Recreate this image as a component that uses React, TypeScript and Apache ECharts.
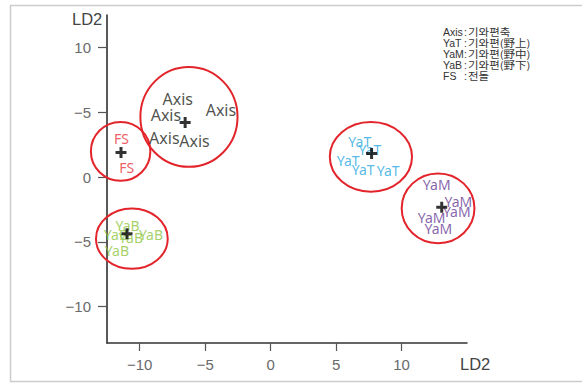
import React, { useEffect, useRef } from "react";
import * as echarts from "echarts";

// ---- data ----
const xTickValues = [-10, -5, 0, 5, 10];
const yTickValues = [-10, -5, 0, 5, 10];
const yTickLabels = ["\u221210", "\u22125", "0", "\u22125", "10"]; // as printed in the original
const xTickLabels = ["\u221210", "\u22125", "0", "5", "10"];

const groups = ["Axis", "FS", "YaB", "YaT", "YaM"];
const groupColors = ["#231f20", "#e8323c", "#8dc63f", "#29a8e0", "#6a3d97"];
const groupFontSizes = [16, 14, 14, 14, 14];

const axisPts = [[-7.1, 6.05], [-8.0, 4.82], [-3.8, 5.15], [-8.12, 3.05], [-5.82, 2.77]];
const fsPts = [[-11.39, 2.98], [-11.0, 0.72]];
const yabPts = [[-10.93, -3.77], [-11.82, -4.46], [-10.67, -4.67], [-9.14, -4.46], [-11.74, -5.67]];
const yatPts = [[6.81, 2.72], [7.58, 2.13], [5.92, 1.31], [7.07, 0.59], [8.98, 0.48]];
const yamPts = [[12.69, -0.54], [14.34, -1.9], [14.22, -2.67], [12.3, -3.1], [12.81, -3.95]];
const groupPts = [axisPts, fsPts, yabPts, yatPts, yamPts];

const centroids = [[-6.53, 4.2], [-11.43, 1.9], [-10.97, -4.38], [7.71, 1.82], [13.07, -2.33]];
// [cx, cy, rx, ry] in data units
const ellipses = [
  [-6.24, 4.64, 3.71, 3.85],
  [-11.46, 1.98, 2.27, 2.27],
  [-10.6, -4.75, 2.74, 2.33],
  [7.66, 1.56, 3.14, 2.69],
  [12.79, -2.41, 2.78, 2.69],
];

const legendNames = ["Axis", "YaT", "YaM", "YaB", "FS"];
const legendDescs = ["기와편축", "기와편(野上)", "기와편(野中)", "기와편(野下)", "전돌"];

const axisTitle = "LD2";

export default function App() {
  const ref = useRef<HTMLDivElement>(null);
  useEffect(() => {
    if (!ref.current) return;
    const chart = echarts.init(ref.current, undefined, { renderer: "svg" });

    const tickFont = {
      color: "#6a6a6a",
      fontSize: 15,
      fontFamily: "Liberation Sans, Arial, sans-serif",
    };

    const labelSeries = groups.map((g, i) => ({
      type: "scatter",
      name: g,
      data: groupPts[i],
      symbolSize: 1,
      itemStyle: { color: "rgba(0,0,0,0)" },
      clip: false,
      label: {
        show: true,
        position: "inside",
        formatter: g,
        color: groupColors[i],
        fontSize: groupFontSizes[i],
        fontFamily: "Noto Sans, sans-serif",
      },
      z: 3,
    }));

    const legendGraphics: any[] = [];
    legendNames.forEach((n, i) => {
      const y = 31.7 + i * 11;
      legendGraphics.push({
        type: "text",
        x: 443,
        y,
        style: { text: n, fill: "#333", fontSize: 10.5, fontFamily: "Liberation Sans, sans-serif", verticalAlign: "middle" },
      });
      legendGraphics.push({
        type: "text",
        x: 464,
        y,
        style: { text: ":", fill: "#333", fontSize: 10.5, fontFamily: "Liberation Sans, sans-serif", verticalAlign: "middle" },
      });
      legendGraphics.push({
        type: "text",
        x: 468,
        y,
        scaleX: 1.15,
        style: { text: legendDescs[i], fill: "#333", fontSize: 10, fontFamily: "Noto Sans CJK KR, sans-serif", verticalAlign: "middle" },
      });
    });

    chart.setOption({
      animation: false,
      grid: { left: 107, top: 15, width: 360, height: 328, containLabel: false },
      xAxis: {
        type: "value",
        min: -12.5,
        max: 15,
        splitLine: { show: false },
        axisLine: { show: true, onZero: false, lineStyle: { color: "#333", width: 1.5 } },
        axisTick: { show: true, customValues: xTickValues, length: 8, lineStyle: { color: "#555", width: 1.2 } },
        axisLabel: {
          customValues: xTickValues,
          margin: 14,
          ...tickFont,
          formatter: (v: number) => xTickLabels[xTickValues.indexOf(v)] ?? String(v),
        },
      },
      yAxis: {
        type: "value",
        min: -12.8,
        max: 12.5,
        splitLine: { show: false },
        axisLine: { show: true, onZero: false, lineStyle: { color: "#222", width: 1.5 } },
        axisTick: { show: true, customValues: yTickValues, length: 9, lineStyle: { color: "#555", width: 1.2 } },
        axisLabel: {
          customValues: yTickValues,
          margin: 16,
          ...tickFont,
          formatter: (v: number) => yTickLabels[yTickValues.indexOf(v)] ?? String(v),
        },
      },
      graphic: [
        {
          type: "rect",
          shape: { x: 10.5, y: 5.5, width: 580, height: 376 },
          style: { fill: "none", stroke: "#cccccc", lineWidth: 1.5 },
          silent: true,
        },
        {
          type: "text",
          x: 460,
          y: 364,
          style: { text: axisTitle, fill: "#444", fontSize: 16.5, fontFamily: "Liberation Sans, sans-serif", verticalAlign: "middle" },
        },
        {
          type: "text",
          x: 72,
          y: 19,
          style: { text: axisTitle, fill: "#444", fontSize: 16.5, fontFamily: "Liberation Sans, sans-serif", verticalAlign: "middle" },
        },
        ...legendGraphics,
      ],
      series: [
        {
          type: "custom",
          data: ellipses,
          encode: { x: 0, y: 1 },
          clip: false,
          z: 2,
          renderItem: (params: any, api: any) => {
            const c = api.coord([api.value(0), api.value(1)]);
            const s = api.size([api.value(2), api.value(3)]);
            return {
              type: "ellipse",
              shape: { cx: c[0], cy: c[1], rx: s[0], ry: s[1] },
              style: { fill: "none", stroke: "#e3242b", lineWidth: 2 },
            };
          },
        },
        ...labelSeries,
        {
          type: "scatter",
          data: centroids,
          symbol: "path://M4,0h3v4h4v3h-4v4h-3v-4h-4v-3h4z",
          symbolSize: 11,
          itemStyle: { color: "#000" },
          clip: false,
          z: 5,
        },
      ],
    });
    return () => chart.dispose();
  }, []);
  return (
    <div
      ref={ref}
      style={{ position: "fixed", left: 0, top: 0, width: 582, height: 383, background: "#fff" }}
    />
  );
}
